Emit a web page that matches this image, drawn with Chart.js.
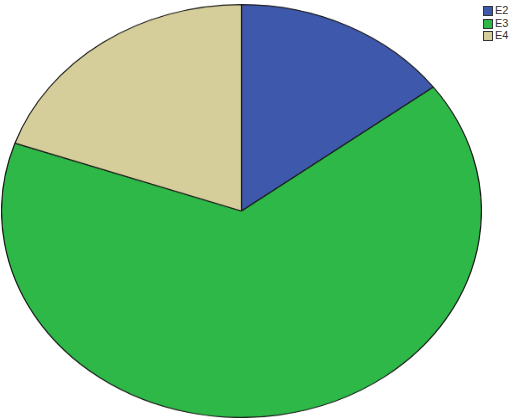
<!DOCTYPE html>
<html>
<head>
<meta charset="utf-8">
<script src="https://cdn.jsdelivr.net/npm/chart.js@4"></script>
<style>
    body { margin: 0; background: #fff; width: 510px; height: 420px; overflow: hidden; position: relative; font-family: "Liberation Sans", Arial, sans-serif; }
    #pieWrap { position: absolute; left: 1px; top: 4px; width: 481px; height: 481px; transform: scaleY(0.8607); transform-origin: 0 0; }
    #legend { position: absolute; left: 483px; top: 5px; font-size: 11px; color: #333; }
    .item { height: 12.5px; line-height: 11px; white-space: nowrap; }
    .box { display: inline-block; width: 8px; height: 8px; border: 1px solid #333; vertical-align: top; margin-top: 1px; margin-right: 2px; }
</style>
</head>
<body>
<div id="pieWrap"><canvas id="pieChart"></canvas></div>
<div id="legend"></div>
<script>
// Données du graphique
const labels = ['E2', 'E3', 'E4'];
const counts = [9, 40, 12];
const colors = ['#3E58AC', '#2EB848', '#D5CE9A'];

// Légende en HTML (le canvas est étiré pour faire une ellipse)
const legend = document.getElementById('legend');
labels.forEach((label, i) => {
    const item = document.createElement('div');
    item.className = 'item';
    const box = document.createElement('span');
    box.className = 'box';
    box.style.background = colors[i];
    item.appendChild(box);
    item.appendChild(document.createTextNode(label));
    legend.appendChild(item);
});

const ctx = document.getElementById('pieChart').getContext('2d');
const pieChart = new Chart(ctx, {
    type: 'pie',
    data: {
        labels: labels,
        datasets: [{
            data: counts,
            backgroundColor: colors,
            borderColor: '#1a1a1a',
            borderWidth: 1.2
        }]
    },
    options: {
        responsive: true,
        maintainAspectRatio: false,
        animation: false,
        layout: { padding: 0 },
        plugins: {
            legend: { display: false },
            tooltip: { enabled: false }
        }
    }
});
</script>
</body>
</html>
